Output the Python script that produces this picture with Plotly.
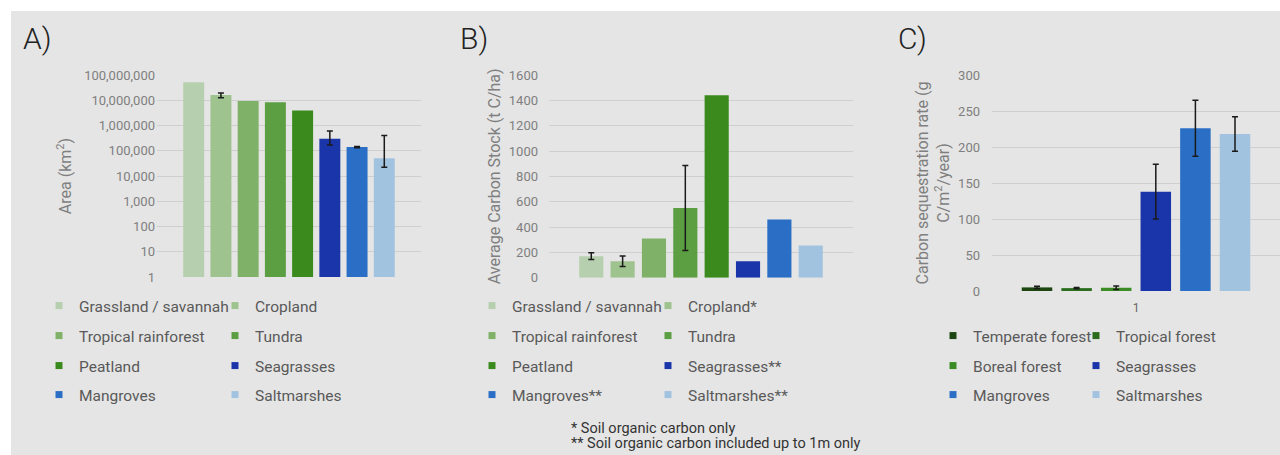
import plotly.graph_objects as go

# ---------------- data ----------------
area_categories = ["Grassland / savannah", "Cropland", "Tropical rainforest", "Tundra",
                   "Peatland", "Seagrasses", "Mangroves", "Saltmarshes"]
area_values = [52000000, 16000000, 9300000, 8300000, 3900000, 300000, 140000, 50000]
area_err_plus = [None, 3500000, None, None, None, 300000, 8000, 350000]
area_err_minus = [None, 3500000, None, None, None, 130000, 8000, 28000]
area_ticks = [1, 10, 100, 1000, 10000, 100000, 1000000, 10000000, 100000000]
area_ticktext = ["1", "10", "100", "1,000", "10,000", "100,000", "1,000,000", "10,000,000", "100,000,000"]

stock_categories = ["Grassland / savannah", "Cropland*", "Tropical rainforest", "Tundra",
                    "Peatland", "Seagrasses**", "Mangroves**", "Saltmarshes**"]
stock_values = [170, 130, 310, 550, 1440, 130, 460, 255]
stock_err = [26, 42, None, 335, None, None, None, None]

seq_categories = ["Temperate forest", "Tropical forest", "Boreal forest",
                  "Seagrasses", "Mangroves", "Saltmarshes"]
seq_values = [5, 4, 4.5, 138, 226, 218]
seq_err = [1.5, 1, 2.5, 38, 39, 24]

x_category = ["1"]

colors_ab = ["#b6cfae", "#9fc38f", "#7fb168", "#5c9e42", "#3a8a1d", "#1a35aa", "#2a6fc5", "#a2c3df"]
colors_c = ["#1d4613", "#2c6d1d", "#3b8c24", "#1a35aa", "#2a6fc5", "#a2c3df"]

panel_labels = ["A)", "B)", "C)"]
footnotes = ["* Soil organic carbon only", "** Soil organic carbon included up to 1m only"]

FONT = "Roboto"
TXT = "#595959"
TICK = "#7f7f7f"
GRID = "#cfcfcf"
BG = "#e5e5e5"
ERR_COLOR = "#1a1a1a"

W, H = 1280, 455


def px(x):
    return x / W


def py(y):
    return 1 - y / H


fig = go.Figure()

legA = ["legend", "legend2", "legend3", "legend4"]
legB = ["legend5", "legend6", "legend7", "legend8"]
legC = ["legend9", "legend10", "legend11"]


def add_panel(names, values, errs_plus, errs_minus, colors, xa, ya, legs):
    for i, (name, v) in enumerate(zip(names, values)):
        err = None
        if errs_plus[i] is not None:
            err = dict(type="data", array=[errs_plus[i]], arrayminus=[errs_minus[i]],
                       symmetric=False, color=ERR_COLOR, thickness=1.5, width=3)
        fig.add_trace(go.Bar(x=x_category, y=[v], name=name, showlegend=False,
                             marker=dict(color=colors[i], line=dict(width=0)),
                             error_y=err, xaxis=xa, yaxis=ya))
        # legend entry (small square key, like the original chart)
        fig.add_trace(go.Scatter(x=[None], y=[None], mode="markers", name=name,
                                 marker=dict(symbol="square", size=7, color=colors[i]),
                                 xaxis=xa, yaxis=ya, legend=legs[i // 2], hoverinfo="skip"))


add_panel(area_categories, area_values, area_err_plus, area_err_minus, colors_ab, "x", "y", legA)
add_panel(stock_categories, stock_values, stock_err, stock_err, colors_ab, "x2", "y2", legB)
add_panel(seq_categories, seq_values, seq_err, seq_err, colors_c, "x3", "y3", legC)

tickfont = dict(family=FONT, size=13, color=TICK)
titlefont = dict(family=FONT, size=16, color=TICK)

layout = dict(
    width=W, height=H,
    margin=dict(l=0, r=0, t=0, b=0, autoexpand=False),
    paper_bgcolor="white",
    plot_bgcolor="rgba(0,0,0,0)",
    barmode="group",
    bargap=0.175,
    bargroupgap=0.23,
    font=dict(family=FONT, color=TXT),
    xaxis=dict(domain=[px(157), px(421)], showticklabels=False, showgrid=False, zeroline=False,
               showline=False),
    yaxis=dict(domain=[py(277), py(75)], type="log", range=[0, 8], tickvals=area_ticks,
               ticktext=area_ticktext, tickfont=tickfont, gridcolor=GRID, gridwidth=1,
               zeroline=False, showline=False, ticks="", ticklabelstandoff=1,
               title=dict(text="Area (km<sup>2</sup>)", font=titlefont, standoff=8)),
    xaxis2=dict(domain=[px(549), px(853)], showticklabels=False, showgrid=False, zeroline=False,
                showline=False),
    yaxis2=dict(domain=[py(277.7), py(75)], range=[0, 1600], dtick=200, tickfont=tickfont,
                gridcolor=GRID, gridwidth=1, zeroline=False, showline=False, ticks="",
                ticklabelstandoff=10, anchor="x2",
                title=dict(text="Average Carbon Stock (t C/ha)", font=titlefont, standoff=4)),
    xaxis3=dict(domain=[px(992), 1.0], showgrid=False, zeroline=False, showline=False,
                tickfont=dict(family=FONT, size=12, color="#666666"), ticks="",
                ticklabelstandoff=8, anchor="y3"),
    yaxis3=dict(domain=[py(291), py(75)], range=[0, 300], dtick=50, tickfont=tickfont,
                gridcolor=GRID, gridwidth=1, zeroline=False, showline=False, ticks="",
                ticklabelstandoff=11, anchor="x3",
                title=dict(text="Carbon sequestration rate (g<br>C/m<sup>2</sup>/year)",
                           font=titlefont, standoff=4)),
    shapes=[dict(type="rect", xref="paper", yref="paper", x0=px(11), x1=1, y0=0, y1=py(11),
                 fillcolor=BG, line=dict(width=0), layer="below")],
)

legfont = dict(family=FONT, size=15.5, color=TXT)
rows_y = [306, 336, 366, 395]


def leg(xleft, y, ew):
    return dict(orientation="h", x=px(xleft), y=py(y), xanchor="left", yanchor="middle",
                bgcolor="rgba(0,0,0,0)", font=legfont, entrywidth=ew, entrywidthmode="pixels",
                traceorder="normal", itemclick=False, itemdoubleclick=False, tracegroupgap=0)


for r, lid in enumerate(legA):
    layout[lid] = leg(39, rows_y[r], 131)
for r, lid in enumerate(legB):
    layout[lid] = leg(472, rows_y[r], 131)
for r, lid in enumerate(legC):
    layout[lid] = leg(933, rows_y[r + 1], 98)

annotations = []
for lab, x in zip(panel_labels, [21, 458, 896]):
    annotations.append(dict(text=lab, xref="paper", yref="paper", x=px(x), y=py(38),
                            xanchor="left", yanchor="middle", showarrow=False,
                            font=dict(family=FONT, size=30, color="#222222", weight=300)))
for k, t in enumerate(footnotes):
    annotations.append(dict(text=t, xref="paper", yref="paper", x=px(569), y=py(428 + 15 * k),
                            xanchor="left", yanchor="middle", showarrow=False,
                            font=dict(family=FONT, size=14.5, color="#333333")))
layout["annotations"] = annotations

fig.update_layout(**layout)
fig.write_html(
    "out.html",
    config={"displayModeBar": False},
    post_script="document.body.style.margin='0px';document.body.style.overflow='hidden';"
                "document.documentElement.style.overflow='hidden';",
)
